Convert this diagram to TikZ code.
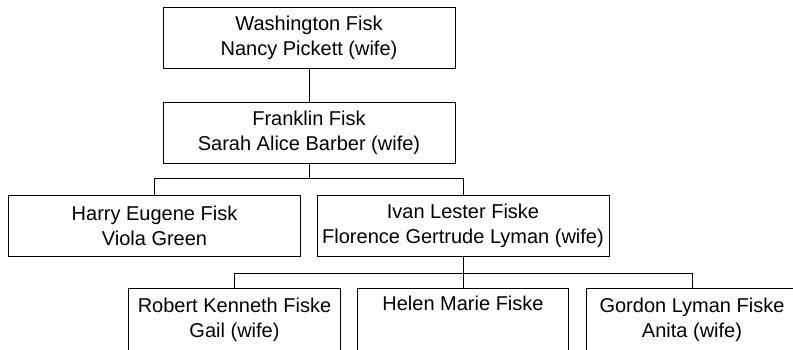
\documentclass[tikz,border=0pt]{standalone}
\usepackage{fontspec}
\setmainfont{Liberation Sans}
\begin{document}
\begin{tikzpicture}[x=0.75pt,y=-0.75pt,
  person/.style={draw=black,line width=0.75pt,fill=white,inner sep=0pt,align=center,
    minimum height=45.75pt,font=\fontsize{15}{18.75}\selectfont},
  wide/.style={person,minimum width=219pt},
  narrow/.style={person,draw=none,minimum width=158pt},
  link/.style={draw=black,line width=0.75pt}]
\useasboundingbox (0,0) rectangle (793,350);
\node[wide] (wf) at (309,37.5) {Washington Fisk\\Nancy Pickett (wife)};
\node[wide] (ff) at (309,132.5) {Franklin Fisk\\Sarah Alice Barber (wife)};
\node[wide] (hf) at (154.5,226) {Harry Eugene Fisk\\Viola Green};
\node[wide] (if) at (463,226) {Ivan Lester Fiske\\Florence Gertrude Lyman (wife)};
\node[narrow] (rf) at (234.5,319.5) {Robert Kenneth Fiske\\Gail (wife)};
\node[narrow] (mf) at (463,319.5) {Helen Marie Fiske\\\strut};
\node[narrow] (gf) at (692,319.5) {Gordon Lyman Fiske\\Anita (wife)};
\draw[link] ([yshift=-8pt]rf.south west) |- (rf.north east) -- ([yshift=-8pt]rf.south east);
\draw[link] ([yshift=-8pt]mf.south west) |- (mf.north east) -- ([yshift=-8pt]mf.south east);
\draw[link] ([yshift=-8pt]gf.south west) |- ([xshift=8pt]gf.north east);
\coordinate (j1) at (309,178);
\coordinate (j2) at (463,273);
\draw[link] (wf.south) -- (ff.north);
\draw[link] (ff.south) -- (j1);
\draw[link] (hf.north) -- (hf.north |- j1) -| (if.north);
\draw[link] (if.south) -- (j2);
\draw[link] (rf.north) -- (rf.north |- j2) -| (gf.north);
\draw[link] (j2) -- (mf.north);
\end{tikzpicture}
\end{document}
